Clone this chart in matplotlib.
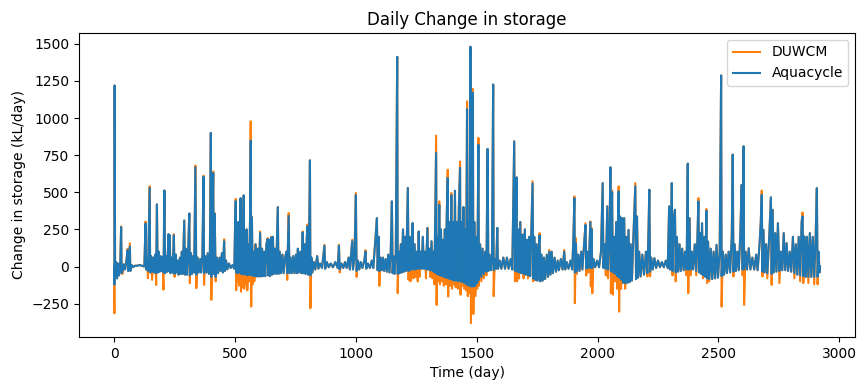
import matplotlib
matplotlib.use('Agg')
import matplotlib.pyplot as plt
import numpy as np

# Aquacycle daily change in storage (kL/day)
day = [
    0, 1, 2, 4, 8, 12, 16, 20, 25, 29,
    31, 35, 40, 45, 50, 56, 58, 62, 65, 67,
    72, 78, 85, 95, 105, 115, 125, 130, 132, 136,
    140, 147, 149, 153, 157, 162, 166, 170, 174, 177,
    180, 184, 188, 192, 196, 200, 204, 208, 211, 215,
    219, 225, 227, 230, 233, 238, 242, 247, 250, 255,
    258, 263, 267, 272, 276, 280, 284, 290, 293, 297,
    301, 306, 311, 313, 318, 322, 327, 331, 336, 340,
    345, 350, 356, 360, 365, 370, 372, 377, 382, 387,
    392, 396, 400, 402, 405, 410, 412, 416, 420, 425,
    430, 436, 440, 446, 450, 455, 458, 463, 468, 475,
    482, 490, 497, 500, 503, 505, 508, 511, 514, 517,
    520, 523, 525, 528, 531, 536, 538, 541, 544, 548,
    551, 555, 558, 562, 565, 567, 570, 573, 577, 580,
    585, 589, 594, 598, 604, 607, 612, 616, 621, 625,
    630, 635, 637, 641, 645, 650, 653, 657, 660, 665,
    670, 677, 680, 685, 690, 696, 701, 707, 713, 716,
    722, 725, 730, 735, 741, 746, 752, 756, 760, 764,
    770, 775, 780, 783, 788, 792, 797, 800, 803, 807,
    810, 812, 816, 820, 826, 832, 840, 845, 852, 860,
    866, 870, 873, 880, 888, 896, 905, 915, 925, 930,
    933, 940, 948, 955, 962, 970, 975, 985, 988, 994,
    1000, 1003, 1008, 1014, 1020, 1027, 1035, 1040, 1043, 1050,
    1058, 1066, 1072, 1080, 1087, 1090, 1095, 1097, 1102, 1107,
    1112, 1117, 1123, 1128, 1134, 1139, 1144, 1149, 1152, 1156,
    1160, 1165, 1171, 1173, 1177, 1181, 1186, 1190, 1195, 1199,
    1204, 1208, 1215, 1218, 1222, 1226, 1230, 1235, 1238, 1243,
    1247, 1252, 1256, 1260, 1263, 1268, 1272, 1277, 1281, 1286,
    1290, 1296, 1299, 1304, 1308, 1313, 1317, 1322, 1325, 1332,
    1334, 1338, 1342, 1345, 1348, 1352, 1356, 1360, 1364, 1368,
    1372, 1376, 1380, 1382, 1386, 1390, 1395, 1398, 1403, 1406,
    1410, 1413, 1418, 1422, 1426, 1431, 1433, 1437, 1441, 1445,
    1448, 1452, 1456, 1460, 1463, 1467, 1470, 1474, 1476, 1480,
    1484, 1486, 1490, 1494, 1498, 1502, 1507, 1509, 1514, 1519,
    1524, 1529, 1535, 1540, 1545, 1548, 1553, 1558, 1563, 1568,
    1570, 1575, 1580, 1585, 1588, 1595, 1602, 1610, 1617, 1625,
    1632, 1640, 1647, 1655, 1658, 1662, 1665, 1667, 1671, 1675,
    1680, 1684, 1690, 1694, 1699, 1703, 1708, 1712, 1717, 1721,
    1726, 1731, 1734, 1738, 1742, 1747, 1751, 1755, 1760, 1763,
    1768, 1773, 1778, 1783, 1790, 1795, 1800, 1805, 1810, 1815,
    1822, 1828, 1835, 1840, 1848, 1855, 1862, 1866, 1872, 1880,
    1888, 1895, 1900, 1904, 1906, 1910, 1914, 1920, 1925, 1932,
    1937, 1944, 1950, 1953, 1958, 1963, 1970, 1972, 1975, 1978,
    1983, 1990, 1998, 2006, 2014, 2021, 2024, 2030, 2034, 2040,
    2043, 2050, 2053, 2055, 2060, 2063, 2068, 2072, 2077, 2081,
    2087, 2089, 2093, 2097, 2101, 2105, 2110, 2114, 2119, 2123,
    2128, 2132, 2137, 2142, 2148, 2156, 2159, 2163, 2167, 2172,
    2178, 2185, 2192, 2200, 2206, 2210, 2214, 2217, 2222, 2228,
    2235, 2242, 2250, 2258, 2266, 2274, 2282, 2290, 2296, 2299,
    2303, 2307, 2310, 2314, 2320, 2323, 2328, 2333, 2339, 2344,
    2350, 2356, 2362, 2368, 2373, 2375, 2380, 2384, 2390, 2395,
    2402, 2408, 2413, 2417, 2420, 2424, 2428, 2432, 2436, 2441,
    2446, 2450, 2453, 2457, 2462, 2468, 2474, 2480, 2486, 2492,
    2498, 2505, 2511, 2513, 2518, 2523, 2530, 2535, 2542, 2548,
    2555, 2559, 2562, 2567, 2572, 2578, 2584, 2590, 2596, 2600,
    2604, 2606, 2612, 2618, 2625, 2632, 2640, 2648, 2656, 2662,
    2670, 2675, 2679, 2682, 2686, 2691, 2697, 2702, 2710, 2717,
    2720, 2724, 2729, 2735, 2740, 2746, 2752, 2758, 2764, 2770,
    2776, 2782, 2788, 2795, 2801, 2808, 2814, 2820, 2826, 2832,
    2838, 2844, 2848, 2851, 2856, 2861, 2866, 2872, 2878, 2884,
    2890, 2896, 2902, 2907, 2910, 2914, 2918, 2920,
]

aquacycle = [
    0, -122, 1219, -60, 30, -80, 20, -60, 10, 265,
    -45, -30, 15, -20, 30, 110, -30, 60, 135, -30,
    10, -5, 5, 5, 10, 5, 0, 290, -20, 50,
    -30, 530, -40, 70, -35, 60, -40, 80, -45, 418,
    -40, 100, -35, 70, -30, 60, -40, 512, -45, 70,
    -35, 218, -30, 210, -45, 60, -40, 210, -50, 80,
    -40, 40, -55, 60, -50, 100, -50, 310, -55, 120,
    -55, 100, 357, -60, 90, -50, 70, -40, 668, -55,
    60, -40, 50, -40, 80, 605, -45, 70, -40, 90,
    -50, 80, 900, -70, 40, 630, -50, 355, -70, 60,
    -45, 60, -30, 90, -40, 170, -30, 40, -20, 20,
    -10, 10, -15, 250, 440, -40, 200, -45, 300, -40,
    150, 460, -50, 250, -50, 479, -55, 200, -50, 250,
    -60, 150, -55, 300, 848, -60, 330, -60, 100, -65,
    150, -67, 120, -67, 225, -67, 120, -65, 100, -65,
    150, 185, -60, 180, -65, 195, -55, 200, -50, 120,
    -50, 400, -50, 100, -45, 80, -45, 60, 100, -45,
    340, -45, 60, -45, 70, -45, 80, -45, 120, -40,
    100, -45, 230, -45, 150, -50, 200, 270, -55, 250,
    715, -60, 60, -40, 30, -20, 70, -15, 20, -10,
    80, 140, -15, 30, -5, 20, -5, 30, -10, 140,
    -20, 20, -10, 30, -10, 60, -20, 170, -20, 60,
    480, -30, 40, -20, 30, -10, 40, 100, -15, 20,
    -10, 40, -10, 160, 326, -25, 200, -30, 60, -25,
    60, -30, 50, -35, 80, -40, 90, 439, -45, 70,
    -50, 60, 1412, -50, 100, -45, 150, -40, 250, -35,
    200, -30, 529, -30, 200, -25, 150, 293, -20, 150,
    -20, 100, -15, 236, -15, 100, -15, 200, -15, 100,
    -20, 260, -20, 120, -25, 170, -30, 100, -40, 765,
    -50, 200, -55, 415, -60, 250, -65, 180, -70, 250,
    -75, 350, 596, -80, 300, -85, 480, -90, 300, -95,
    510, -95, 300, -100, 400, 664, -100, 300, -105, 400,
    -110, 250, -120, 1060, -125, 300, -130, 1480, -135, 400,
    1170, -135, 300, -130, 200, -110, 820, -90, 150, -70,
    120, -50, 100, -35, 792, -30, 80, -25, 60, 1226,
    -25, 50, -15, 260, -15, 40, -15, 60, -15, 60,
    -15, 50, -20, 843, -30, 300, 600, -35, 250, -40,
    300, -45, 215, -50, 250, -55, 180, -60, 200, -65,
    250, 560, -80, 200, -90, 150, -95, 100, 210, -100,
    80, -95, 60, -85, 80, -70, 100, -55, 100, -45,
    60, -35, 40, -25, 50, -20, 100, -20, 30, -15,
    40, -20, 200, 460, -40, 157, -35, 80, -30, 100,
    -20, 150, 280, -15, 100, -10, 300, -10, 250, -10,
    50, -5, 40, -5, 100, 562, -10, 150, -15, 405,
    -20, 300, 668, -30, 500, -40, 200, -50, 300, -65,
    506, -75, 337, -90, 326, -110, 326, -112, 200, -110,
    247, -105, 150, -95, 200, 540, -85, 337, -75, 100,
    -67, 80, -55, 100, -45, 200, 517, -35, 60, -20,
    56, -10, 40, -5, 30, -5, 40, -10, 405, -20,
    200, 562, -30, 300, 382, -40, 200, -35, 150, -30,
    120, -25, 100, -20, 693, -20, 326, -20, 100, -20,
    150, -30, 200, 438, -40, 225, -50, 292, -60, 200,
    -70, 375, -80, 168, -85, 120, -85, 100, -80, 146,
    -75, 100, 1287, -65, 100, -55, 80, -45, 100, -40,
    200, 754, -35, 150, -30, 100, -25, 200, 550, -20,
    810, -20, 100, -20, 123, -20, 60, -20, 80, -25,
    150, 300, 483, -35, 247, -40, 150, -45, 200, 466,
    -50, 382, -40, 225, -35, 292, -30, 100, -25, 225,
    -25, 157, -30, 100, -35, 200, -45, 150, -55, 200,
    -60, 300, 337, -65, 202, -70, 200, -70, 225, -70,
    200, -70, 200, 528, -70, 100, -40, 0,
]

# DUWCM follows Aquacycle except on these days (higher peaks, deeper drawdowns)
duwcm_day = [
    1, 29, 35, 56, 62, 65, 130, 140, 147, 157,
    174, 204, 247, 250, 313, 336, 340, 370, 372, 402,
    410, 416, 420, 455, 503, 505, 511, 517, 525, 531,
    538, 544, 551, 558, 565, 567, 570, 573, 580, 604,
    635, 650, 716, 722, 780, 800, 812, 866, 870, 930,
    933, 985, 1000, 1003, 1040, 1080, 1097, 1173, 1218, 1226,
    1238, 1247, 1256, 1263, 1290, 1308, 1317, 1325, 1332, 1334,
    1342, 1345, 1348, 1356, 1364, 1372, 1380, 1382, 1390, 1395,
    1398, 1406, 1413, 1422, 1431, 1433, 1441, 1448, 1456, 1460,
    1463, 1470, 1476, 1484, 1486, 1494, 1502, 1507, 1509, 1519,
    1529, 1540, 1570, 1658, 1667, 1675, 1694, 1712, 1731, 1734,
    1760, 1800, 1862, 1904, 1906, 1910, 1914, 1950, 1953, 1963,
    1970, 1972, 1975, 1978, 2034, 2043, 2055, 2060, 2063, 2072,
    2081, 2087, 2089, 2097, 2114, 2156, 2206, 2210, 2217, 2310,
    2323, 2368, 2375, 2384, 2408, 2417, 2436, 2450, 2453, 2462,
    2513, 2562, 2600, 2606, 2679, 2682, 2702, 2720, 2752, 2814,
    2838, 2848, 2851, 2872, 2896, 2910,
]

duwcm_val = [
    -315, 270, -50, 120, 80, 157, 303, -79, 540, -90,
    -124, -156, 218, -70, -112, 680, -146, 612, -124, -225,
    640, 360, -100, 184, 455, -160, -100, -130, -170, -140,
    -150, -120, -160, -100, 978, -270, 337, -120, -100, 236,
    191, 200, -90, 360, 236, 283, -281, 85, 146, 146,
    -40, 180, 495, -70, 110, 170, -130, -180, -90, -100,
    -80, -70, -100, -70, -80, -70, -80, -120, 882, -259,
    -100, 439, -120, -100, -130, -120, 652, -202, -130, 495,
    -150, -120, -140, -150, 708, -190, -130, -150, -160, 1113,
    -200, -180, -382, 1197, -320, -200, -150, 866, -130, -100,
    -80, -60, -200, -100, -100, -80, -80, -80, 574, -100,
    225, 112, 112, 472, -247, 191, -50, 292, -60, -40,
    303, -135, 258, -180, -60, -80, -180, 512, -190, -100,
    -150, 540, -304, -150, -150, 562, -67, 202, -67, -60,
    -100, -60, -180, -60, -60, 461, -80, 387, -112, -100,
    -270, -67, -60, -259, 511, -67, -80, -124, -112, -80,
    -100, 364, -112, -112, -120, -120,
]

assert len(day) == len(aquacycle)
assert len(duwcm_day) == len(duwcm_val)

t = np.array(day)
aqua = np.array(aquacycle, dtype=float)

duwcm = aqua.copy()
pos = np.searchsorted(t, duwcm_day)
assert np.all(t[pos] == np.array(duwcm_day))
duwcm[pos] = duwcm_val

plt.figure(figsize=(8.57, 3.83), dpi=100)
plt.plot(t, duwcm, color='tab:orange', label='DUWCM')
plt.plot(t, aqua, color='tab:blue', label='Aquacycle')

plt.title('Daily Change in storage')
plt.xlabel('Time (day)')
plt.ylabel('Change in storage (kL/day)')
plt.legend(loc='upper right')
plt.subplots_adjust(left=0.092, right=0.998, bottom=0.12, top=0.914)

plt.savefig('out.png', dpi=100)
